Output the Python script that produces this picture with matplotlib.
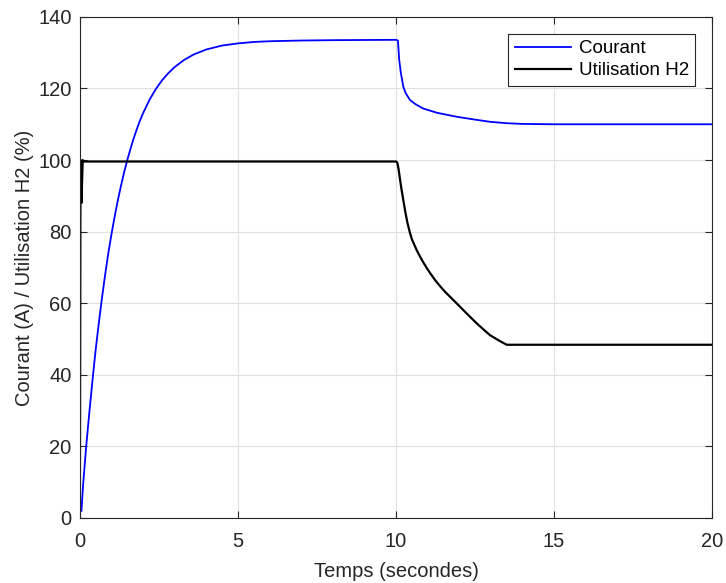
import matplotlib.pyplot as plt

plt.rcParams['font.family'] = ['Liberation Sans', 'DejaVu Sans']

# courant (A)
t_courant = [0.05, 0.1, 0.2, 0.3, 0.4, 0.5, 0.6, 0.7, 0.8, 0.9, 1.0, 1.1, 1.2, 1.3, 1.4,
             1.5, 1.6, 1.7, 1.8, 1.9, 2.0, 2.2, 2.4, 2.6, 2.8, 3.0, 3.3, 3.6, 4.0, 4.5,
             5.0, 5.5, 6.0, 7.0, 8.0, 10.0, 10.06, 10.1, 10.15, 10.23, 10.3, 10.44, 10.6,
             10.86, 11.3, 11.92, 12.5, 12.97, 13.5, 14.0, 15.0, 20.0]
courant = [2, 9, 20, 29.5, 38.5, 47, 54.5, 61.5, 68, 74, 79.3, 84.2, 88.7, 92.8, 96.6,
           100, 103.1, 106, 108.6, 111, 113.1, 116.8, 119.8, 122.3, 124.3, 126, 128, 129.5,
           130.9, 132, 132.6, 133, 133.2, 133.4, 133.5, 133.6, 133.4, 128, 124.5, 120.5,
           118.8, 116.8, 115.7, 114.4, 113.2, 112.1, 111.3, 110.7, 110.3, 110.1, 110, 110]

# utilisation H2 (%)
t_h2 = [0.0, 0.02, 0.05, 0.09, 0.12, 10.0, 10.04, 10.08, 10.12, 10.17, 10.23, 10.3, 10.36,
        10.43, 10.5, 10.58, 10.65, 10.75, 10.85, 10.96, 11.08, 11.25, 11.4, 11.55, 11.71,
        11.97, 12.25, 12.55, 12.75, 12.97, 13.25, 13.5, 20.0]
h2 = [0, 100, 88, 100, 99.6, 99.6, 99.3, 97.5, 95, 92, 88.8, 85.2, 82.5,
      80, 77.9, 76.3, 74.9, 73.2, 71.6, 70, 68.4, 66.3, 64.7, 63.2, 61.8,
      59.5, 57, 54.4, 52.8, 51.1, 49.6, 48.4, 48.4]

fig = plt.figure(figsize=(7.26, 5.83), dpi=100)
ax = fig.add_axes([0.110, 0.1115, 0.871, 0.8595])

ax.plot(t_courant, courant, color=(0, 0, 1), lw=1.3, label='Courant')
ax.plot(t_h2, h2, color='black', lw=1.6, label='Utilisation H2')

ax.set_xlim(0, 20)
ax.set_ylim(0, 140)
ax.set_xticks([0, 5, 10, 15, 20])
ax.set_yticks(range(0, 141, 20))
ax.grid(True, color='#e0e0e0', lw=0.8)
ax.set_axisbelow(True)
ax.tick_params(direction='in', top=True, right=True, labelsize=14.5, colors='#262626',
               length=5)
ax.tick_params(axis='x', pad=10)
ax.tick_params(axis='y', pad=6)
for s in ax.spines.values():
    s.set_color('#262626')
    s.set_linewidth(0.8)

ax.set_xlabel('Temps (secondes)', fontsize=14.5, color='#262626', labelpad=8)
ax.set_ylabel('Courant (A) / Utilisation H2 (%)', fontsize=14.5, color='#262626', labelpad=3)

leg = ax.legend(loc='upper right', fontsize=13.5, fancybox=False, framealpha=1,
                edgecolor='#262626', borderaxespad=0.9, handlelength=3.0,
                handletextpad=0.4, borderpad=0.35, labelspacing=0.25)
leg.get_frame().set_linewidth(0.8)

plt.savefig('out.png', dpi=100)
